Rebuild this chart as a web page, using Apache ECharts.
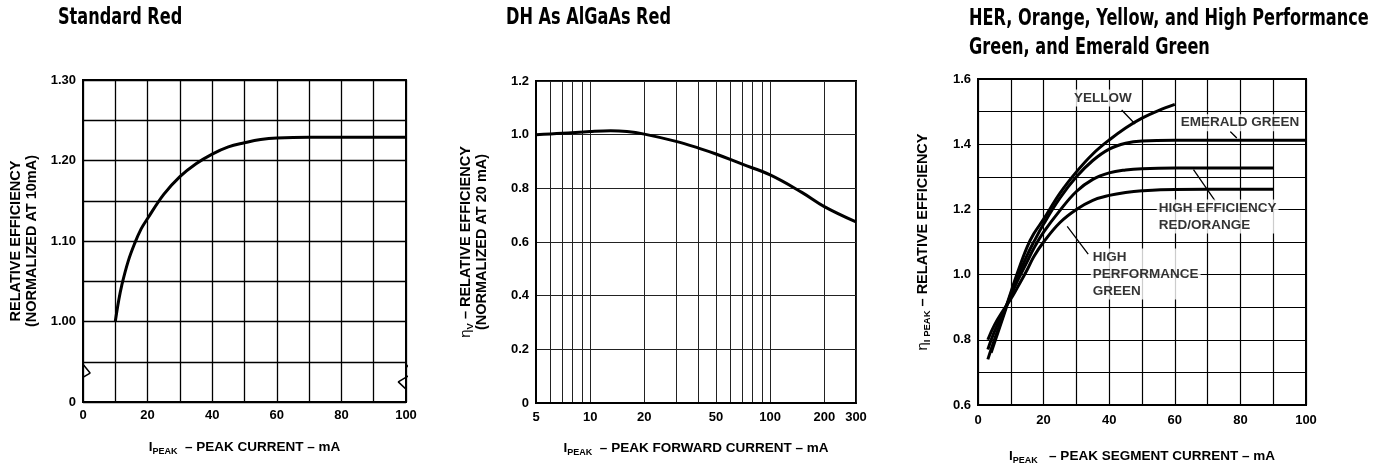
<!DOCTYPE html>
<html>
<head>
<meta charset="utf-8">
<script src="https://cdn.jsdelivr.net/npm/echarts@6/dist/echarts.min.js"></script>
<style>
html,body{margin:0;padding:0;background:#fff;}
#main{width:1390px;height:470px;}
</style>
</head>
<body>
<div id="main"></div>
<script>
// ---------- Data ----------
// Chart 1: Standard Red
const stdRedCurrent = [10, 11, 12, 14, 16, 18, 20, 25, 30, 35, 40, 45, 50, 55, 60, 70, 80, 90, 100];
const stdRedEff     = [1.00, 1.025, 1.045, 1.075, 1.097, 1.115, 1.128, 1.158, 1.180, 1.196, 1.208, 1.217, 1.222, 1.226, 1.228, 1.229, 1.229, 1.229, 1.229];
const stdYLabelBreak = 0.9;   // axis position labelled "0" (broken axis)

// Chart 2: DH As AlGaAs Red
const dhCurrent = [5, 7, 10, 13, 16, 20, 30, 40, 50, 70, 100, 150, 200, 300];
const dhEff     = [1.000, 1.005, 1.012, 1.015, 1.012, 1.002, 0.975, 0.950, 0.928, 0.890, 0.850, 0.785, 0.732, 0.675];
const dhTickValues  = [5, 6, 7, 8, 9, 10, 20, 30, 40, 50, 60, 70, 80, 90, 100, 200, 300];
const dhLabelValues = [5, 10, 20, 50, 100, 200, 300];

// Chart 3: HER, Orange, Yellow, HPG, Emerald Green
const yellowX  = [3, 5, 8, 10, 12, 15, 17, 20, 25, 30, 35, 40, 45, 50, 55, 60];
const yellowY  = [0.74, 0.80, 0.885, 0.945, 1.005, 1.085, 1.125, 1.17, 1.25, 1.315, 1.37, 1.413, 1.45, 1.48, 1.503, 1.522];
const emeraldX = [4, 6, 8, 10, 12, 15, 17, 20, 25, 30, 35, 40, 45, 50, 60, 100];
const emeraldY = [0.76, 0.82, 0.88, 0.94, 0.99, 1.06, 1.10, 1.155, 1.235, 1.30, 1.35, 1.385, 1.403, 1.41, 1.412, 1.412];
const herX     = [3, 5, 8, 10, 12, 15, 17, 20, 25, 30, 35, 40, 45, 50, 60, 90];
const herY     = [0.77, 0.825, 0.89, 0.935, 0.98, 1.04, 1.08, 1.13, 1.197, 1.255, 1.292, 1.312, 1.321, 1.325, 1.327, 1.327];
const hpgX     = [3, 5, 8, 10, 12, 15, 17, 20, 25, 30, 35, 40, 45, 50, 60, 90];
const hpgY     = [0.80, 0.845, 0.895, 0.925, 0.96, 1.015, 1.055, 1.10, 1.16, 1.20, 1.228, 1.243, 1.252, 1.257, 1.261, 1.262];

// Chart 3 annotation texts and their anchor points (data coords)
const annoTexts = ['YELLOW', 'EMERALD GREEN', 'HIGH EFFICIENCY\nRED/ORANGE', 'HIGH\nPERFORMANCE\nGREEN'];
const annoX     = [38.1, 79.9, 54.5, 34.4];
const annoY     = [1.542, 1.466, 1.178, 1.002];
const annoAlign = ['center', 'center', 'left', 'left'];
// leader lines from label to curve
const leaderX1 = [43.8, 76.9, 65.7, 27.2];
const leaderY1 = [1.505, 1.439, 1.322, 1.148];
const leaderX2 = [47.9, 78.9, 72.3, 33.6];
const leaderY2 = [1.462, 1.419, 1.226, 1.063];

// broken-axis zigzag marks for chart 1
const breakLX = [0, 2.2, -2.4, 0];
const breakRX = [100, 102.2, 97.6, 100];
const breakY  = [0.947, 0.936, 0.925, 0.916];

// titles
const panelTitles = ['Standard Red', 'DH As AlGaAs Red', 'HER, Orange, Yellow, and High Performance\nGreen, and Emerald Green'];

// ---------- Helpers ----------
const zip = (xs, ys) => xs.map((x, i) => [x, ys[i]]);
const FONT = '"Liberation Sans", Arial, sans-serif';
const lbl = {color: '#000', fontFamily: FONT, fontWeight: 'bold', fontSize: 13};
const rich = {
  t:   {fontFamily: FONT, fontWeight: 'bold', fontSize: 13.5, color: '#000'},
  i:   {fontFamily: FONT, fontWeight: 'bold', fontSize: 13.5, color: '#000'},
  sub: {fontFamily: FONT, fontWeight: 'bold', fontSize: 9, color: '#000', padding: [9, 0, 0, 0]},
  eta: {fontFamily: FONT, fontSize: 14, color: '#000'}
};
const rich3 = Object.assign({}, rich, {
  t: {fontFamily: FONT, fontWeight: 'bold', fontSize: 14.5, color: '#000'},
  sub: {fontFamily: FONT, fontWeight: 'bold', fontSize: 9.5, color: '#000', padding: [9, 0, 0, 0]},
  eta: {fontFamily: FONT, fontSize: 15, color: '#000'}
});
const axisLineBlack = {show: true, lineStyle: {color: '#000', width: 2}};

const chart = echarts.init(document.getElementById('main'), null, {renderer: 'canvas'});

const leaderData = [];
leaderX1.forEach((x, i) => {
  leaderData.push([x, leaderY1[i]], [leaderX2[i], leaderY2[i]], '-');
});

const curveStyle = {color: '#000', width: 3};
const titleLeft = [58, 506, 969];
const titleMidY = [18, 18, 34];
const titleFont = 'bold 23px "DejaVu Sans Condensed", "DejaVu Sans", sans-serif';

const option = {
  backgroundColor: '#fff',
  animation: false,
  graphic: panelTitles.map((t, i) => ({
    type: 'text', x: titleLeft[i], y: titleMidY[i], scaleX: 0.78,
    style: {text: t, x: 0, y: 0, font: titleFont, fill: '#000', align: 'left', verticalAlign: 'middle', lineHeight: 29}
  })),
  grid: [
    {left: 83, top: 80, width: 323, height: 322, show: true, borderColor: '#000', borderWidth: 2},
    {left: 536, top: 81, width: 320, height: 322, show: true, borderColor: '#000', borderWidth: 2},
    {left: 978, top: 79, width: 328, height: 328, show: true, borderColor: '#000', borderWidth: 2}
  ],
  xAxis: [
    {gridIndex: 0, type: 'value', min: 0, max: 100, interval: 10,
     axisLine: axisLineBlack, axisTick: {show: false},
     splitLine: {show: true, lineStyle: {color: '#000', width: 1.3}},
     axisLabel: Object.assign({}, lbl, {margin: 7, formatter: v => (v % 20 === 0 ? String(v) : '')}),
     name: '{i|I}{sub|PEAK}{t|  – PEAK CURRENT – mA}', nameLocation: 'middle', nameGap: 36,
     nameTextStyle: {rich: rich}},
    {gridIndex: 1, type: 'log', logBase: 10, min: 5, max: 300,
     axisLine: axisLineBlack,
     axisTick: {show: false, customValues: dhTickValues},
     splitLine: {show: true, lineStyle: {color: '#222', width: 1}},
     axisLabel: Object.assign({}, lbl, {margin: 8, customValues: dhLabelValues, formatter: v => String(Math.round(v))}),
     name: '{i|I}{sub|PEAK}{t|  – PEAK FORWARD CURRENT – mA}', nameLocation: 'middle', nameGap: 36,
     nameTextStyle: {rich: rich}},
    {gridIndex: 2, type: 'value', min: 0, max: 100, interval: 10,
     axisLine: axisLineBlack, axisTick: {show: false},
     splitLine: {show: true, lineStyle: {color: '#000', width: 1.2}},
     axisLabel: Object.assign({}, lbl, {margin: 9, formatter: v => (v % 20 === 0 ? String(v) : '')}),
     name: '{i|I}{sub|PEAK}{t|   – PEAK SEGMENT CURRENT – mA}', nameLocation: 'middle', nameGap: 42,
     nameTextStyle: {rich: rich}}
  ],
  yAxis: [
    {gridIndex: 0, type: 'value', min: stdYLabelBreak, max: 1.3, interval: 0.05,
     axisLine: axisLineBlack, axisTick: {show: false},
     splitLine: {show: true, lineStyle: {color: '#000', width: 1.3}},
     axisLabel: Object.assign({}, lbl, {margin: 7, formatter: v => {
       const k = Math.round(v * 100);
       if (k === Math.round(stdYLabelBreak * 100)) return '0';
       return k % 10 === 0 ? (k / 100).toFixed(2) : '';
     }}),
     name: '{t|RELATIVE EFFICIENCY}\n{t|(NORMALIZED AT 10mA)}', nameLocation: 'middle', nameGap: 43, nameRotate: 90,
     nameTextStyle: {rich: rich3, lineHeight: 16}},
    {gridIndex: 1, type: 'value', min: 0, max: 1.2, interval: 0.2,
     axisLine: axisLineBlack, axisTick: {show: false},
     splitLine: {show: true, lineStyle: {color: '#222', width: 1}},
     axisLabel: Object.assign({}, lbl, {margin: 7, formatter: v => (v === 0 ? '0' : v.toFixed(1))}),
     name: '{eta|η}{sub|V}{t| – RELATIVE EFFICIENCY}\n{t|(NORMALIZED AT 20 mA)}', nameLocation: 'middle', nameGap: 46, nameRotate: 90,
     nameTextStyle: {rich: rich3, lineHeight: 16}},
    {gridIndex: 2, type: 'value', min: 0.6, max: 1.6, interval: 0.1,
     axisLine: axisLineBlack, axisTick: {show: false},
     splitLine: {show: true, lineStyle: {color: '#000', width: 1.2}},
     axisLabel: Object.assign({}, lbl, {margin: 7, formatter: v => {
       const k = Math.round(v * 10);
       return k % 2 === 0 ? (k / 10).toFixed(1) : '';
     }}),
     name: '{eta|η}{sub|I PEAK}{t| – RELATIVE EFFICIENCY}', nameLocation: 'middle', nameGap: 46, nameRotate: 90,
     nameTextStyle: {rich: rich3}}
  ],
  series: [
    {type: 'line', xAxisIndex: 0, yAxisIndex: 0, data: zip(stdRedCurrent, stdRedEff), smooth: 0.4,
     showSymbol: false, lineStyle: curveStyle, z: 5},
    {type: 'line', xAxisIndex: 0, yAxisIndex: 0, data: zip(breakLX, breakY), showSymbol: false, clip: false,
     lineStyle: {color: '#000', width: 1.5}, z: 6},
    {type: 'line', xAxisIndex: 0, yAxisIndex: 0, data: zip(breakRX, breakY), showSymbol: false, clip: false,
     lineStyle: {color: '#000', width: 1.5}, z: 6},
    {type: 'line', xAxisIndex: 1, yAxisIndex: 1, data: zip(dhCurrent, dhEff), smooth: 0.4,
     showSymbol: false, lineStyle: curveStyle, z: 5},
    {type: 'line', xAxisIndex: 2, yAxisIndex: 2, data: zip(yellowX, yellowY), smooth: 0.4, showSymbol: false, lineStyle: curveStyle, z: 5},
    {type: 'line', xAxisIndex: 2, yAxisIndex: 2, data: zip(emeraldX, emeraldY), smooth: 0.4, showSymbol: false, lineStyle: curveStyle, z: 5},
    {type: 'line', xAxisIndex: 2, yAxisIndex: 2, data: zip(herX, herY), smooth: 0.4, showSymbol: false, lineStyle: curveStyle, z: 5},
    {type: 'line', xAxisIndex: 2, yAxisIndex: 2, data: zip(hpgX, hpgY), smooth: 0.4, showSymbol: false, lineStyle: curveStyle, z: 5},
    {type: 'line', xAxisIndex: 2, yAxisIndex: 2, data: leaderData, showSymbol: false, connectNulls: false,
     lineStyle: {color: '#000', width: 1.3}, z: 6},
    {type: 'scatter', xAxisIndex: 2, yAxisIndex: 2, symbolSize: 1, itemStyle: {color: 'rgba(0,0,0,0)'}, z: 7,
     data: annoTexts.map((t, i) => ({
       value: [annoX[i], annoY[i]], name: t,
       label: {show: true, position: 'inside', formatter: '{b}', align: annoAlign[i], verticalAlign: 'middle',
               color: '#000', fontFamily: FONT, fontWeight: 'bold', fontSize: 13.5, lineHeight: 17,
               backgroundColor: '#fff', padding: [0, 2, 0, 2]}
     }))}
  ]
};
chart.setOption(option);
</script>
</body>
</html>
